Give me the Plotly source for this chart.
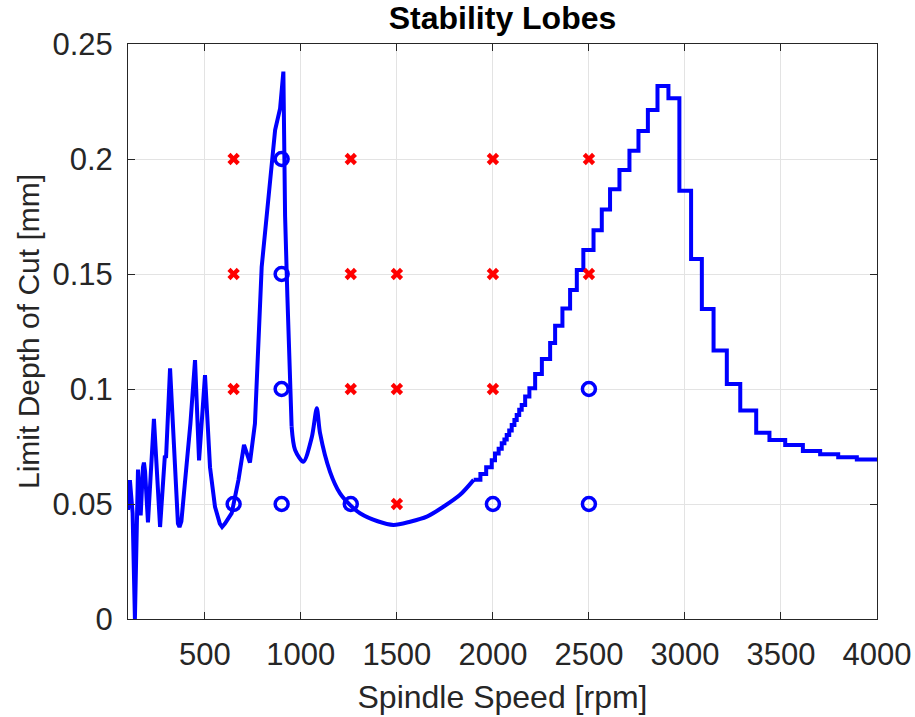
import plotly.graph_objects as go

# Spiky low-speed part of the stability lobe boundary (spindle speed [rpm], limit depth [mm])
rpm_spiky = [100, 110, 124, 136, 152, 166, 178, 183, 189, 204, 235, 267, 292, 298,
             319, 360, 368, 378, 395, 425, 449, 470, 501, 527, 553, 578, 590, 605,
             640, 675, 704, 735, 761, 782, 796, 866, 892, 909, 918, 930, 939, 952]
depth_spiky = [0.0474, 0.0604, 0.046, 0.0, 0.065, 0.045, 0.066, 0.068, 0.064, 0.042,
               0.087, 0.040, 0.071, 0.070, 0.109, 0.0415, 0.0400, 0.0425, 0.058,
               0.085, 0.1126, 0.069, 0.106, 0.066, 0.0488, 0.0415, 0.0400, 0.0415,
               0.046, 0.0604, 0.0757, 0.068, 0.085, 0.121, 0.153, 0.2126, 0.222,
               0.238, 0.175, 0.140, 0.117, 0.0836]

# Smooth valley part of the boundary
rpm_valley = [952, 970, 1013, 1057, 1083, 1100, 1152, 1204, 1256, 1308, 1400, 1482,
              1569, 1656, 1742, 1829, 1900]
depth_valley = [0.0836, 0.0735, 0.0684, 0.079, 0.0916, 0.0808, 0.064, 0.0546, 0.0496,
                0.046, 0.0425, 0.0409, 0.0423, 0.0445, 0.0488, 0.054, 0.0605]

# Stepped high-speed part of the boundary (start of each flat, level)
rpm_steps = [1900, 1935, 1965, 1994, 2011, 2030, 2046, 2060, 2072, 2085, 2098, 2112,
             2124, 2137, 2150, 2168, 2190, 2220, 2255, 2298, 2324, 2362, 2402, 2437,
             2471, 2524, 2567, 2610, 2659, 2711, 2758, 2807, 2857, 2914, 2971, 3032,
             3088, 3149, 3218, 3288, 3371, 3440, 3522, 3614, 3704, 3798, 3895, 4000]
depth_steps = [0.0605, 0.063, 0.066, 0.069, 0.072, 0.074, 0.0764, 0.078, 0.080, 0.082,
               0.0843, 0.0865, 0.0887, 0.091, 0.093, 0.0967, 0.1003, 0.1065, 0.1130,
               0.1200, 0.1275, 0.1350, 0.1430, 0.1517, 0.1604, 0.1690, 0.1780,
               0.1868, 0.1952, 0.2036, 0.2122, 0.2213, 0.2317, 0.2264, 0.1862,
               0.1565, 0.1348, 0.1167, 0.1022, 0.0906, 0.0810, 0.0778, 0.0757,
               0.0730, 0.0716, 0.0703, 0.0694, 0.0694]

# Cutting tests: chatter (red x) and stable (blue o)
chatter_rpm = [650, 650, 650, 1260, 1260, 1260, 1500, 1500, 1500, 2000, 2000, 2000, 2500, 2500]
chatter_depth = [0.2, 0.15, 0.1, 0.2, 0.15, 0.1, 0.15, 0.1, 0.05, 0.2, 0.15, 0.1, 0.2, 0.15]
stable_rpm = [650, 900, 900, 900, 900, 1260, 2000, 2500, 2500]
stable_depth = [0.05, 0.2, 0.15, 0.1, 0.05, 0.05, 0.05, 0.1, 0.05]

x_ticks = [500, 1000, 1500, 2000, 2500, 3000, 3500, 4000]
y_ticks = [0, 0.05, 0.1, 0.15, 0.2, 0.25]
y_tick_text = ["0", "0.05", "0.1", "0.15", "0.2", "0.25"]

BLUE = "#0000ff"
FONT = "Liberation Sans, Arial, sans-serif"
LW = 4

fig = go.Figure()
fig.add_trace(go.Scatter(x=rpm_spiky, y=depth_spiky, mode="lines",
                         line=dict(color=BLUE, width=LW), showlegend=False))
fig.add_trace(go.Scatter(x=rpm_valley, y=depth_valley, mode="lines",
                         line=dict(color=BLUE, width=LW, shape="spline", smoothing=0.8),
                         showlegend=False))
fig.add_trace(go.Scatter(x=rpm_steps, y=depth_steps, mode="lines",
                         line=dict(color=BLUE, width=LW, shape="hv"), showlegend=False))
fig.add_trace(go.Scatter(x=chatter_rpm, y=chatter_depth, mode="markers",
                         marker=dict(symbol="x", size=11, color="#ff0000",
                                     line=dict(width=0)), showlegend=False))
fig.add_trace(go.Scatter(x=stable_rpm, y=stable_depth, mode="markers",
                         marker=dict(symbol="circle-open", size=13, color=BLUE,
                                     line=dict(width=3.5, color=BLUE)), showlegend=False))

axis_common = dict(showline=True, mirror="ticks", linecolor="#262626", linewidth=1,
                   ticks="inside", ticklen=7, tickcolor="#262626", showgrid=True,
                   gridcolor="#e3e3e3", gridwidth=1, zeroline=False, automargin=False,
                   tickfont=dict(family=FONT, size=31, color="#262626"))

fig.update_xaxes(range=[100, 4000], tickvals=x_ticks, ticktext=[str(v) for v in x_ticks],
                 title=dict(text="Spindle Speed [rpm]", font=dict(family=FONT, size=32, color="#262626"),
                            standoff=14),
                 ticklabelstandoff=8,
                 **axis_common)
fig.update_yaxes(range=[0, 0.25], tickvals=y_ticks, ticktext=y_tick_text,
                 title=dict(text="Limit Depth of Cut [mm]", font=dict(family=FONT, size=30, color="#262626"),
                            standoff=3),
                 ticklabelstandoff=8,
                 **axis_common)

fig.update_layout(
    width=915, height=717,
    margin=dict(l=128, r=38, t=44, b=98),
    paper_bgcolor="white", plot_bgcolor="white",
    title=dict(text="<b>Stability Lobes</b>", x=0.5, xref="paper", xanchor="center",
               y=0.975, yref="container", yanchor="middle",
               font=dict(family=FONT, size=32, color="#000000")),
)

fig.write_html("out.html")
